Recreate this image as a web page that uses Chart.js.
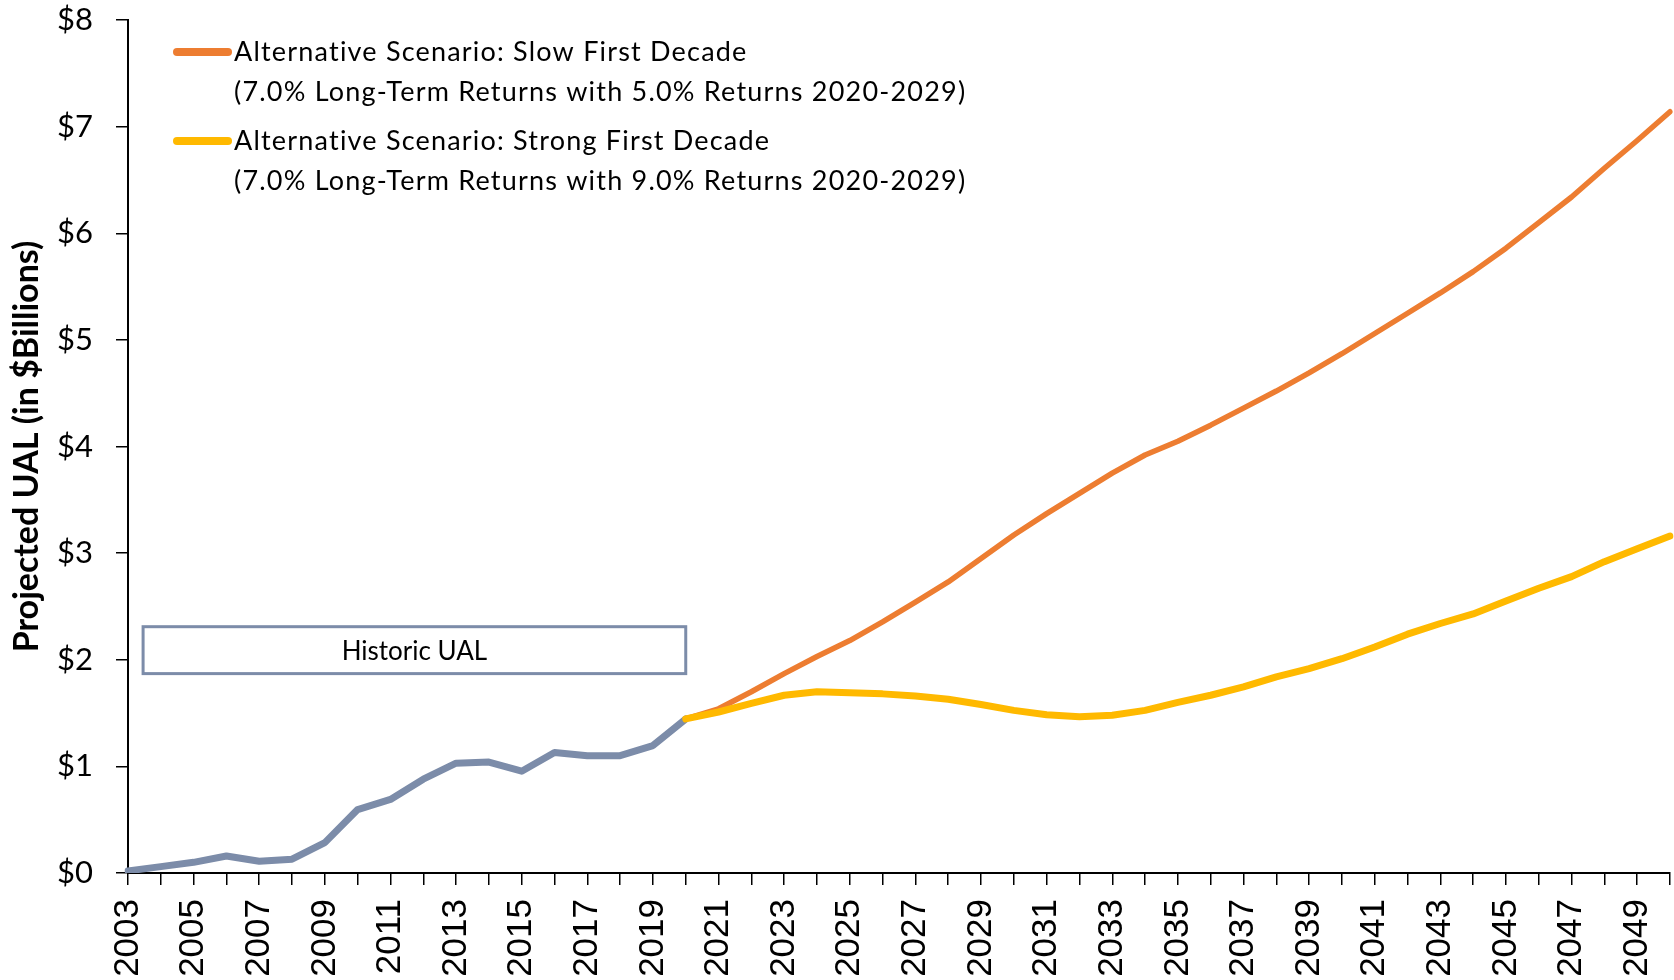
<!DOCTYPE html>
<html>
<head>
<meta charset="utf-8">
<script src="https://cdn.jsdelivr.net/npm/chart.js@4.4.1/dist/chart.umd.min.js"></script>
<style>
html,body{margin:0;padding:0;background:#ffffff;}
#c{display:block;}
</style>
</head>
<body>
<canvas id="c" width="1674" height="980"></canvas>
<script>
// ---------- DATA ----------
const years = ['2003','2004','2005','2006','2007','2008','2009','2010','2011','2012',
  '2013','2014','2015','2016','2017','2018','2019','2020','2021','2022','2023','2024',
  '2025','2026','2027','2028','2029','2030','2031','2032','2033','2034','2035','2036',
  '2037','2038','2039','2040','2041','2042','2043','2044','2045','2046','2047','2048',
  '2049','2050'];

// Historic UAL, 2003-2020 ($ billions)
const historicUAL = [0.02,0.06,0.10,0.16,0.11,0.13,0.285,0.595,0.69,0.88,
  1.03,1.04,0.955,1.13,1.10,1.10,1.195,1.445];

// Projections, 2020-2050 ($ billions)
const slowDecade = [1.445,1.54,1.70,1.87,2.03,2.18,2.355,2.54,2.73,2.95,3.17,3.37,
  3.56,3.75,3.92,4.05,4.20,4.36,4.52,4.69,4.87,5.06,5.25,5.44,5.64,5.86,6.10,6.34,
  6.61,6.87,7.14];
const strongDecade = [1.445,1.51,1.59,1.667,1.70,1.69,1.68,1.66,1.63,1.58,1.525,1.485,
  1.465,1.48,1.525,1.60,1.667,1.745,1.84,1.917,2.01,2.12,2.24,2.34,2.43,2.55,2.67,2.78,
  2.92,3.04,3.16];

const slowLabel = ['Alternative Scenario: Slow First Decade',
  '(7.0% Long-Term Returns with 5.0% Returns 2020-2029)'];
const strongLabel = ['Alternative Scenario: Strong First Decade',
  '(7.0% Long-Term Returns with 9.0% Returns 2020-2029)'];
const historicLabel = 'Historic UAL';
const yTitle = 'Projected UAL (in $Billions)';
const yTicks = [0,1,2,3,4,5,6,7,8];

// Historic UAL text box in data space (category index, value)
const historicBox = {x0: 0.46, x1: 17.0, y0: 1.87, y1: 2.31};

// ---------- BUILD ----------
const projStart = years.indexOf('2020');
const histData = years.map((y, i) => i < historicUAL.length ? historicUAL[i] : null);
const slowData = years.map((y, i) => i >= projStart ? slowDecade[i - projStart] : null);
const strongData = years.map((y, i) => i >= projStart ? strongDecade[i - projStart] : null);

const C_ORANGE = '#ED7D31';
const C_YELLOW = '#FFB900';
const C_GRAY = '#7C8CA9';

const TEXT_FONT = 'Lato, "Open Sans", sans-serif';

const overlayPlugin = {
  id: 'overlay',
  afterDraw(chart) {
    const ctx = chart.ctx;
    const ca = chart.chartArea;
    const xs = chart.scales.x, ys = chart.scales.y;

    // Historic UAL box
    const bx0 = xs.getPixelForValue(historicBox.x0);
    const bx1 = xs.getPixelForValue(historicBox.x1);
    const by0 = ys.getPixelForValue(historicBox.y1);
    const by1 = ys.getPixelForValue(historicBox.y0);
    ctx.save();
    ctx.fillStyle = '#ffffff';
    ctx.fillRect(bx0, by0, bx1 - bx0, by1 - by0);
    ctx.strokeStyle = C_GRAY;
    ctx.lineWidth = 3;
    ctx.strokeRect(bx0, by0, bx1 - bx0, by1 - by0);
    ctx.fillStyle = '#000';
    ctx.font = '26px ' + TEXT_FONT;
    ctx.textAlign = 'center';
    ctx.textBaseline = 'middle';
    ctx.fillText(historicLabel, (bx0 + bx1) / 2, (by0 + by1) / 2 + 1);
    ctx.restore();

    // Legend (top-left inside plot)
    const items = [
      {lines: slowLabel, color: C_ORANGE},
      {lines: strongLabel, color: C_YELLOW}
    ];
    ctx.save();
    ctx.font = '27px ' + TEXT_FONT;
    try { ctx.letterSpacing = '1.2px'; } catch (e) {}
    ctx.textAlign = 'left';
    ctx.textBaseline = 'alphabetic';
    items.forEach((it, k) => {
      const base = ca.top + 41 + k * 89;
      ctx.strokeStyle = it.color;
      ctx.lineWidth = 8;
      ctx.lineCap = 'round';
      ctx.beginPath();
      ctx.moveTo(ca.left + 49, base - 9);
      ctx.lineTo(ca.left + 100, base - 9);
      ctx.stroke();
      ctx.fillStyle = '#000';
      it.lines.forEach((t, j) => {
        ctx.fillText(t, ca.left + 106, base + j * 39.5);
      });
    });
    ctx.restore();
  }
};

new Chart(document.getElementById('c'), {
  type: 'line',
  data: {
    labels: years,
    datasets: [
      {label: strongLabel.join(' '), data: strongData, borderColor: C_YELLOW, borderWidth: 7},
      {label: slowLabel.join(' '), data: slowData, borderColor: C_ORANGE, borderWidth: 5.5},
      {label: historicLabel, data: histData, borderColor: C_GRAY, borderWidth: 7}
    ]
  },
  options: {
    responsive: false,
    animation: false,
    devicePixelRatio: 1,
    spanGaps: false,
    elements: {
      point: {radius: 0, hoverRadius: 0},
      line: {tension: 0, fill: false, borderCapStyle: 'round', borderJoinStyle: 'round'}
    },
    layout: {padding: {left: 0, right: 4, top: 20, bottom: 0}},
    plugins: {legend: {display: false}, tooltip: {enabled: false}},
    scales: {
      x: {
        offset: false,
        afterFit: (s) => { s.paddingLeft = 0; s.paddingRight = 0; s.height = 107; },
        grid: {display: true, drawOnChartArea: false, drawTicks: true, tickLength: 12,
               color: '#000', lineWidth: 1.5},
        border: {display: true, color: '#000', width: 2},
        ticks: {
          autoSkip: false, maxRotation: 90, minRotation: 90, padding: 14,
          color: '#000',
          font: {family: '"Liberation Sans", Arial, sans-serif', size: 35},
          callback: (v, i) => (i % 2 === 0 ? years[i] : '')
        }
      },
      y: {
        min: 0, max: 8,
        afterFit: (s) => { s.width = 128; s.paddingTop = 0; s.paddingBottom = 0; },
        afterBuildTicks: (s) => { s.ticks = yTicks.map(v => ({value: v})); },
        grid: {display: true, drawOnChartArea: false, drawTicks: true, tickLength: 12,
               color: '#000', lineWidth: 1.5},
        border: {display: true, color: '#000', width: 2},
        title: {display: true, text: yTitle, color: '#000',
                font: {family: TEXT_FONT, size: 34, weight: 'bold'},
                padding: {top: 7, bottom: 0}},
        ticks: {
          padding: 23, color: '#000',
          font: {family: TEXT_FONT, size: 31},
          callback: (v) => '$' + v
        }
      }
    }
  },
  plugins: [overlayPlugin]
});
</script>
</body>
</html>
